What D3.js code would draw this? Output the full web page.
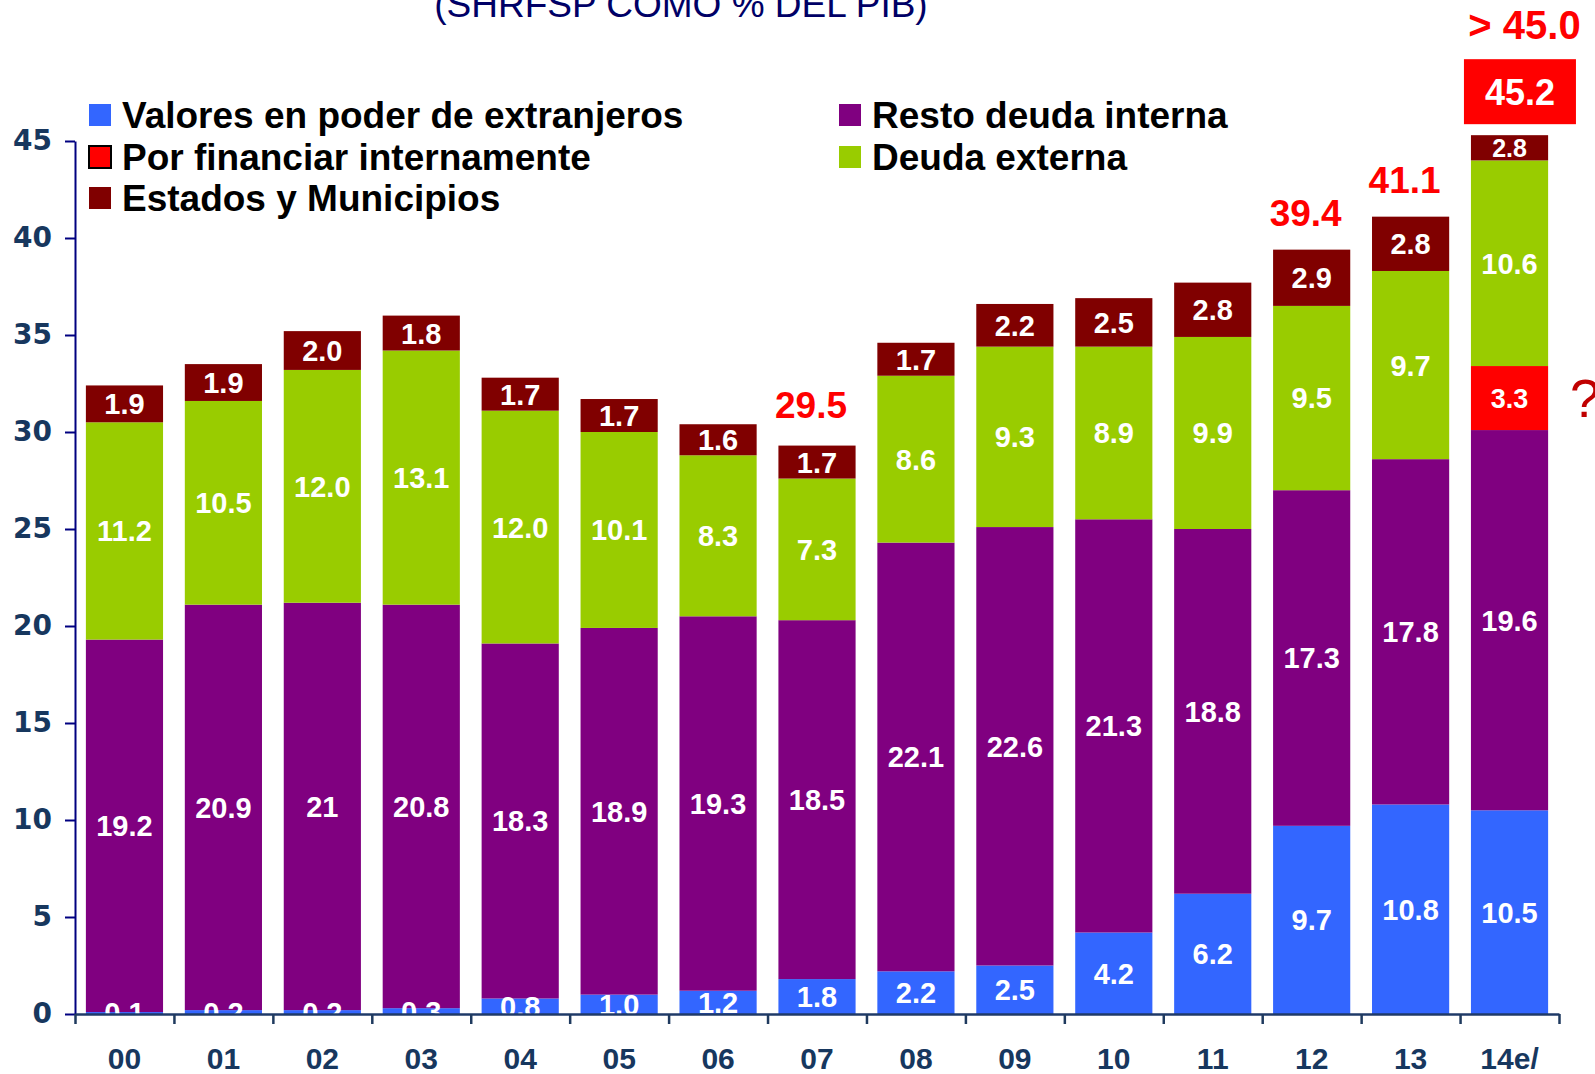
<!DOCTYPE html>
<html>
<head>
<meta charset="utf-8">
<script src="https://cdn.jsdelivr.net/npm/d3@7"></script>
<style>
  body { margin: 0; background: #fff; }
  svg { display: block; font-family: "Liberation Sans", Arial, sans-serif; }
</style>
</head>
<body>
<svg id="chart"></svg>
<script>
// data (% del PIB)
var years = ["00", "01", "02", "03", "04", "05", "06", "07", "08", "09", "10", "11", "12", "13", "14e/"];
var valores = [0.1, 0.2, 0.2, 0.3, 0.8, 1.0, 1.2, 1.8, 2.2, 2.5, 4.2, 6.2, 9.7, 10.8, 10.5];
var resto = [19.2, 20.9, 21, 20.8, 18.3, 18.9, 19.3, 18.5, 22.1, 22.6, 21.3, 18.8, 17.3, 17.8, 19.6];
var porFinanciar = [0, 0, 0, 0, 0, 0, 0, 0, 0, 0, 0, 0, 0, 0, 3.3];
var externa = [11.2, 10.5, 12.0, 13.1, 12.0, 10.1, 8.3, 7.3, 8.6, 9.3, 8.9, 9.9, 9.5, 9.7, 10.6];
var estados = [1.9, 1.9, 2.0, 1.8, 1.7, 1.7, 1.6, 1.7, 1.7, 2.2, 2.5, 2.8, 2.9, 2.8, 1.3];
var yTicks = [0, 5, 10, 15, 20, 25, 30, 35, 40, 45];

// labels written in the original that differ from the drawn value
var labelOverride = { "resto|02": "21", "estados|14e/": "2.8" };
var smallLabel = { "estados|14e/": 25, "porFinanciar|14e/": 27 };

var totalLabels = [
  { year: "07", value: 29.5 },
  { year: "12", value: 39.4 },
  { year: "13", value: 41.1 }
];

var series = [
  { key: "valores", name: "Valores en poder de extranjeros", color: "#3366FF", values: valores },
  { key: "resto", name: "Resto deuda interna", color: "#800080", values: resto },
  { key: "porFinanciar", name: "Por financiar internamente", color: "#FF0000", values: porFinanciar },
  { key: "externa", name: "Deuda externa", color: "#99CC00", values: externa },
  { key: "estados", name: "Estados y Municipios", color: "#800000", values: estados }
];

var W = 1595, H = 1074;
var margin = { top: 141, right: 36, bottom: 60, left: 75 },
  width = W - margin.left - margin.right,
  height = H - margin.top - margin.bottom;

var table = years.map(function(y, i) {
  var row = { year: y };
  series.forEach(function(s) { row[s.key] = s.values[i]; });
  return row;
});

var stacked = d3.stack().keys(series.map(function(s) { return s.key; }))(table);

var x = d3.scaleBand()
  .domain(years)
  .range([0, width])
  .paddingInner(0.22)
  .paddingOuter(0.11);
var xEdge = d3.scaleLinear()
  .domain([0, years.length])
  .range([0, width]);
var y = d3.scaleLinear()
  .domain([0, 45])
  .range([height, 0]);

var svg = d3.select("#chart")
  .attr("width", W)
  .attr("height", H);

svg.append("text")
  .attr("x", 681)
  .attr("y", 17)
  .attr("text-anchor", "middle")
  .style("font-size", "37px")
  .style("fill", "#000066")
  .text("(SHRFSP COMO % DEL PIB)");

var g = svg.append("g")
  .attr("transform", "translate(" + margin.left + "," + margin.top + ")");

svg.append("defs").append("clipPath")
  .attr("id", "plotclip")
  .append("rect")
  .attr("x", -margin.left)
  .attr("y", -margin.top)
  .attr("width", W)
  .attr("height", margin.top + height);

// bars
var layers = g.append("g").selectAll("g")
    .data(stacked)
  .enter().append("g")
    .style("fill", function(d, i) { return series[i].color; });

layers.selectAll("rect")
    .data(function(d) { return d; })
  .enter().append("rect")
    .attr("x", function(d) { return x(d.data.year); })
    .attr("y", function(d) { return y(d[1]); })
    .attr("width", x.bandwidth())
    .attr("height", function(d) { return y(d[0]) - y(d[1]); });

// segment labels
var labels = g.append("g").attr("clip-path", "url(#plotclip)");
stacked.forEach(function(layer) {
  labels.selectAll(null)
      .data(layer.filter(function(d) { return d[1] - d[0] > 0; }))
    .enter().append("text")
      .attr("x", function(d) { return x(d.data.year) + x.bandwidth() / 2; })
      .attr("y", function(d) { return y((d[0] + d[1]) / 2); })
      .attr("dy", "0.36em")
      .attr("text-anchor", "middle")
      .style("font-weight", "bold")
      .style("font-size", function(d) {
        var k = layer.key + "|" + d.data.year;
        return (smallLabel[k] || 29) + "px";
      })
      .style("fill", "#fff")
      .text(function(d) {
        var k = layer.key + "|" + d.data.year;
        return labelOverride[k] || d3.format(".1f")(d[1] - d[0]);
      });
});

// axes
var yAxis = d3.axisLeft(y)
  .tickValues(yTicks)
  .tickSize(10)
  .tickSizeOuter(0)
  .tickPadding(13);
var ya = g.append("g")
  .attr("class", "y axis")
  .call(yAxis);
ya.select(".domain").attr("stroke", "#000080").attr("stroke-width", 2);
ya.selectAll(".tick line").attr("stroke", "#000080").attr("stroke-width", 2);
ya.selectAll(".tick text")
  .style("font-family", "'DejaVu Sans', Verdana, sans-serif")
  .style("font-weight", "bold")
  .style("font-size", "28px")
  .style("fill", "#17375E");

var xTicks = d3.axisBottom(xEdge)
  .tickValues(d3.range(years.length + 1))
  .tickFormat("")
  .tickSize(10)
  .tickSizeOuter(0);
var xt = g.append("g")
  .attr("transform", "translate(0," + height + ")")
  .call(xTicks);
xt.select(".domain").attr("stroke", "#1F3A68").attr("stroke-width", 2.5);
xt.selectAll(".tick line").attr("stroke", "#1F3A5F").attr("stroke-width", 2.5);

var xAxis = d3.axisBottom(x)
  .tickSize(0)
  .tickPadding(34);
var xa = g.append("g")
  .attr("transform", "translate(0," + height + ")")
  .call(xAxis);
xa.select(".domain").remove();
xa.selectAll(".tick text")
  .style("font-weight", "bold")
  .style("font-size", "30px")
  .style("fill", "#17375E");

// totals above bars
var totals = {};
stacked[stacked.length - 1].forEach(function(d) { totals[d.data.year] = d[1]; });

g.selectAll(".total")
    .data(totalLabels)
  .enter().append("text")
    .attr("class", "total")
    .attr("x", function(d) { return x(d.year) + x.bandwidth() / 2 - 6; })
    .attr("y", function(d) { return y(d.value) - 24; })
    .attr("text-anchor", "middle")
    .style("font-weight", "bold")
    .style("font-size", "37px")
    .style("fill", "#FF0000")
    .text(function(d) { return d3.format(".1f")(d.value); });

// 14e/ annotations
var last = years[years.length - 1];
var bx = x(last), bw = x.bandwidth();
var topY = y(totals[last]);

g.append("rect")
  .attr("x", bx - 7)
  .attr("y", topY - 76)
  .attr("width", 112)
  .attr("height", 65)
  .style("fill", "#FF0000");
g.append("text")
  .attr("x", bx - 7 + 56)
  .attr("y", topY - 43)
  .attr("dy", "0.36em")
  .attr("text-anchor", "middle")
  .style("font-weight", "bold")
  .style("font-size", "36px")
  .style("fill", "#fff")
  .text("45.2");
g.append("text")
  .attr("x", bx + bw / 2 + 15)
  .attr("y", topY - 96)
  .attr("text-anchor", "middle")
  .style("font-weight", "bold")
  .style("font-size", "40px")
  .style("fill", "#FF0000")
  .text("> 45.0");

var redSeg = stacked[2][years.length - 1];
g.append("text")
  .attr("x", bx + bw + 22)
  .attr("y", y((redSeg[0] + redSeg[1]) / 2))
  .attr("dy", "0.36em")
  .style("font-size", "54px")
  .style("fill", "#C00000")
  .text("?");

// legend
var legendPos = [
  { key: "valores", x: 89, y: 115 },
  { key: "porFinanciar", x: 89, y: 157 },
  { key: "estados", x: 89, y: 198 },
  { key: "resto", x: 839, y: 115 },
  { key: "externa", x: 839, y: 157 }
];
var legend = svg.append("g").selectAll("g")
    .data(legendPos)
  .enter().append("g")
    .attr("transform", function(d) { return "translate(" + d.x + "," + d.y + ")"; });

legend.append("rect")
  .attr("x", 0)
  .attr("y", -11)
  .attr("width", 22)
  .attr("height", 22)
  .style("fill", function(d) { return series.find(function(s) { return s.key == d.key; }).color; })
  .style("stroke", function(d) { return d.key == "porFinanciar" ? "#000" : "none"; })
  .style("stroke-width", 2);

legend.append("text")
  .attr("x", 33)
  .attr("dy", "0.36em")
  .style("font-weight", "bold")
  .style("font-size", "37px")
  .style("fill", "#000")
  .text(function(d) { return series.find(function(s) { return s.key == d.key; }).name; });
</script>
</body>
</html>
